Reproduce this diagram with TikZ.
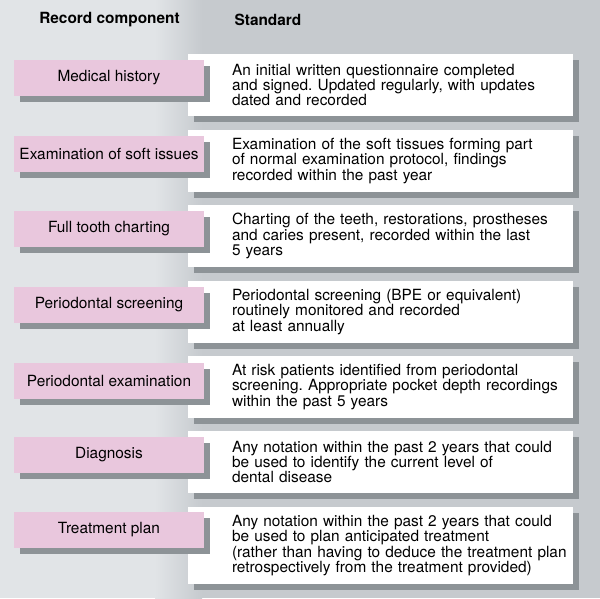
\documentclass[tikz,border=0pt]{standalone}
\usepackage{fontspec}
\setmainfont{TeX Gyre Heros}
\usetikzlibrary{positioning,shadows}
\frenchspacing

\definecolor{bglight}{RGB}{225,228,231}
\definecolor{bgdark}{RGB}{198,202,206}
\definecolor{pinkbox}{RGB}{233,199,221}
\definecolor{shadowgray}{RGB}{141,147,151}

\begin{document}
\begin{tikzpicture}[
  x=1pt, y=-1pt,
  component/.style={
    rectangle, fill=pinkbox, minimum width=190pt, minimum height=36pt,
    inner sep=0pt, font=\fontsize{15.4}{15.4}\selectfont,
    general shadow={fill=shadowgray, shadow xshift=6pt, shadow yshift=-6pt}
  },
  standard/.style={
    rectangle, fill=white, text width=385pt, minimum height=62pt,
    inner xsep=0pt, inner ysep=0pt, align=left,
    execute at begin node={\leftskip=44pt\relax},
    font=\fontsize{15.4}{15.4}\selectfont,
    general shadow={fill=shadowgray, shadow xshift=6pt, shadow yshift=-6pt}
  },
  heading/.style={font=\bfseries\fontsize{15.4}{15.4}\selectfont}
]

% === Background ===
\useasboundingbox (0,0) rectangle (600,598);
\fill[bglight] (0,0) rectangle (155,598);
\shade[left color=bglight, right color=bgdark] (155,0) rectangle (202,598);
\fill[bgdark] (202,0) rectangle (600,598);

% === Column headings ===
\node[heading] (hcomp) at (109.5,20) {Record component};
\node[heading, anchor=west] (hstd) at (231,20) {Standard};

% === Standard boxes ===
\node[standard] (s1) at (380.5,85) {An initial written questionnaire completed\\and signed. Updated regularly, with updates\\dated and recorded};
\node[standard] (s2) at (380.5,161) {Examination of the soft tissues forming part\\of normal examination protocol, findings\\recorded within the past year};
\node[standard] (s3) at (380.5,236) {Charting of the teeth, restorations, prostheses\\and caries present, recorded within the last\\5 years};
\node[standard] (s4) at (380.5,312) {Periodontal screening (BPE or equivalent)\\routinely monitored and recorded\\at least annually};
\node[standard] (s5) at (380.5,387) {At risk patients identified from periodontal\\screening. Appropriate pocket depth recordings\\within the past 5 years};
\node[standard] (s6) at (380.5,462) {Any notation within the past 2 years that could\\be used to identify the current level of\\dental disease};
\node[standard, minimum height=77pt] (s7) at (380.5,545.5) {Any notation within the past 2 years that could\\be used to plan anticipated treatment\\(rather than having to deduce the treatment plan\\retrospectively from the treatment provided)};

% === Record component boxes ===
\node[component] (c1) at (109,78) {Medical history};
\node[component] (c2) at (109,154) {Examination of soft issues};
\node[component] (c3) at (109,229) {Full tooth charting};
\node[component] (c4) at (109,305) {Periodontal screening};
\node[component] (c5) at (109,381) {Periodontal examination};
\node[component] (c6) at (109,455) {Diagnosis};
\node[component] (c7) at (109,530) {Treatment plan};

\end{tikzpicture}
\end{document}
